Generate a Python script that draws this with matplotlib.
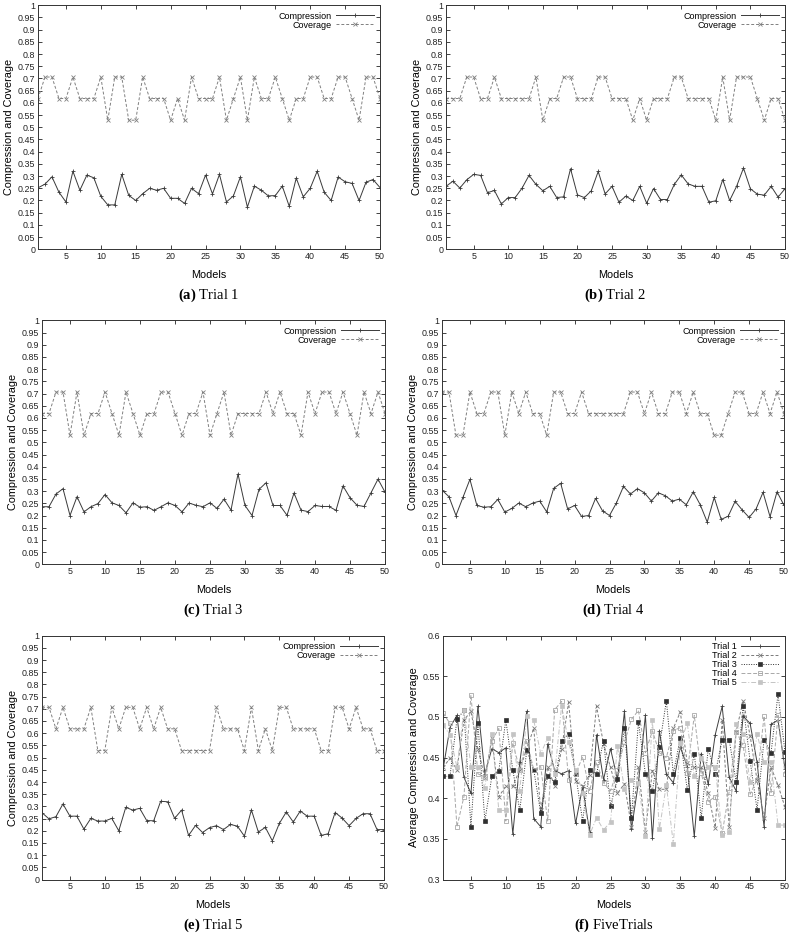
import matplotlib
matplotlib.use("Agg")
import matplotlib.pyplot as plt
import numpy as np

plt.rcParams['font.family'] = ['Liberation Sans', 'DejaVu Sans']
plt.rcParams['mathtext.fontset'] = 'custom'
plt.rcParams['mathtext.rm'] = 'Liberation Serif'
plt.rcParams['mathtext.bf'] = 'Liberation Serif:bold'

models = list(range(1, 51))

cov1 = [.618,.706,.706,.618,.618,.706,.618,.618,.618,.706, .529,.706,.706,.529,.529,.706,.618,.618,.618,.529,
        .618,.529,.706,.618,.618,.618,.706,.529,.618,.706, .529,.706,.618,.618,.706,.618,.529,.618,.618,.706,
        .706,.618,.618,.706,.706,.618,.529,.706,.706,.618]
comp1 = [.252,.267,.297,.234,.194,.320,.242,.304,.293,.217, .182,.182,.307,.221,.200,.228,.250,.242,.250,.209,
         .209,.188,.250,.228,.304,.227,.307,.194,.219,.297, .173,.259,.242,.219,.220,.259,.176,.292,.215,.250,
         .320,.234,.200,.296,.277,.270,.200,.275,.286,.253]

cov2 = [.618,.618,.618,.706,.706,.618,.618,.706,.618,.618, .618,.618,.618,.706,.529,.618,.618,.706,.706,.618,
        .618,.618,.706,.706,.618,.618,.618,.529,.618,.529, .618,.618,.618,.706,.706,.618,.618,.618,.618,.529,
        .706,.529,.706,.706,.706,.618,.529,.618,.618,.529]
comp2 = [.258,.279,.251,.285,.307,.303,.232,.241,.186,.212, .212,.251,.303,.266,.240,.258,.212,.215,.330,.223,
         .212,.240,.319,.227,.258,.193,.218,.200,.258,.189, .249,.204,.204,.266,.305,.268,.258,.258,.193,.199,
         .286,.200,.258,.333,.248,.226,.222,.258,.214,.248]

cov3 = [.618,.618,.706,.706,.529,.706,.529,.618,.618,.706, .618,.529,.706,.618,.529,.618,.618,.706,.706,.618,
        .529,.618,.618,.706,.529,.618,.706,.529,.618,.618, .618,.618,.706,.618,.706,.618,.618,.529,.706,.618,
        .706,.706,.618,.706,.618,.529,.706,.618,.706,.618]
comp3 = [.236,.236,.288,.310,.200,.277,.215,.236,.249,.286, .252,.241,.211,.252,.234,.236,.221,.236,.252,.241,
         .215,.251,.242,.236,.252,.229,.267,.222,.370,.241, .200,.307,.334,.241,.241,.201,.292,.222,.216,.241,
         .237,.237,.221,.321,.273,.242,.237,.293,.349,.296]

cov4 = [.706,.706,.529,.529,.706,.618,.618,.706,.706,.529, .706,.618,.706,.618,.618,.529,.706,.706,.618,.618,
        .706,.618,.618,.618,.618,.618,.618,.706,.706,.618, .706,.618,.618,.706,.706,.618,.706,.618,.618,.529,
        .529,.618,.706,.706,.618,.618,.706,.618,.706,.618]
comp4 = [.304,.277,.200,.274,.348,.241,.234,.236,.266,.214, .229,.251,.236,.251,.259,.215,.311,.332,.227,.241,
         .196,.200,.270,.219,.200,.252,.319,.288,.310,.293, .259,.293,.281,.259,.267,.244,.297,.244,.173,.274,
         .184,.197,.258,.223,.192,.227,.295,.195,.297,.242]

cov5 = [.706,.706,.618,.706,.618,.618,.618,.706,.529,.529, .706,.618,.706,.706,.618,.706,.618,.706,.618,.618,
        .529,.529,.529,.529,.529,.706,.618,.618,.618,.529, .706,.529,.618,.529,.706,.706,.618,.618,.618,.618,
        .529,.529,.706,.706,.618,.706,.618,.618,.529,.529]
comp5 = [.274,.249,.258,.310,.260,.260,.207,.251,.240,.240, .251,.200,.296,.285,.292,.242,.241,.321,.319,.251,
         .285,.181,.222,.193,.213,.221,.205,.226,.219,.178, .286,.195,.214,.159,.230,.277,.236,.281,.260,.260,
         .181,.188,.275,.252,.221,.251,.270,.270,.205,.205]

avg1 = [.435,.487,.502,.426,.406,.513,.430,.461,.456,.462, .356,.444,.507,.375,.365,.467,.434,.430,.434,.369,
        .414,.359,.478,.423,.461,.423,.507,.362,.419,.502, .351,.483,.430,.419,.463,.439,.353,.455,.417,.478,
        .513,.426,.409,.501,.492,.444,.365,.491,.496,.436]
avg2 = [.438,.449,.435,.496,.507,.461,.425,.474,.402,.415, .415,.435,.461,.486,.385,.438,.415,.461,.518,.421,
        .415,.429,.513,.467,.438,.406,.418,.365,.438,.359, .434,.411,.411,.486,.506,.443,.438,.438,.406,.364,
        .496,.365,.482,.520,.477,.422,.376,.438,.416,.389]
avg3 = [.427,.427,.497,.508,.365,.492,.372,.427,.434,.496, .435,.385,.459,.435,.382,.427,.420,.471,.479,.430,
        .372,.435,.430,.471,.391,.424,.487,.376,.494,.430, .409,.463,.520,.430,.474,.410,.455,.376,.461,.430,
        .472,.472,.420,.514,.446,.386,.472,.456,.528,.457]
avg4 = [.505,.492,.365,.402,.527,.430,.426,.471,.486,.372, .468,.435,.471,.435,.439,.372,.509,.519,.423,.430,
        .451,.409,.444,.419,.409,.435,.469,.497,.508,.456, .483,.456,.450,.483,.487,.431,.502,.431,.396,.402,
        .357,.408,.482,.465,.405,.423,.501,.407,.502,.430]
avg5 = [.490,.478,.438,.508,.439,.439,.413,.479,.385,.385, .479,.409,.501,.496,.455,.474,.430,.514,.469,.435,
        .407,.355,.376,.361,.371,.464,.412,.422,.419,.354, .496,.362,.416,.344,.468,.492,.427,.450,.439,.439,
        .355,.359,.491,.479,.420,.479,.444,.444,.367,.367]

panels = [("a", "Trial 1", comp1, cov1), ("b", "Trial 2", comp2, cov2),
          ("c", "Trial 3", comp3, cov3), ("d", "Trial 4", comp4, cov4),
          ("e", "Trial 5", comp5, cov5)]

W, H = 793, 933
fig = plt.figure(figsize=(W / 100, H / 100), dpi=100)


def rect(l, r, t, b):
    return [l / W, 1 - b / H, (r - l) / W, (b - t) / H]


rects = [rect(38, 380, 5.3, 249.3), rect(446, 785, 5.3, 249.3),
         rect(42, 385, 320.3, 564.3), rect(442, 784, 320.3, 564.3),
         rect(42, 384, 635.6, 879.6), rect(443, 785, 635.6, 879.6)]
caption_y = [295, 295, 610, 610, 925, 925]
models_y = [275, 275, 590, 590, 905, 905]

TICK_FS = 6.4
LABEL_FS = 7.8


def style_axes(ax):
    ax.tick_params(direction='in', length=3, width=0.6, labelsize=TICK_FS,
                   top=True, right=True, pad=2, colors='#222222')
    for s in ax.spines.values():
        s.set_linewidth(0.7)
        s.set_color('#333333')
    ax.set_xticks(range(5, 51, 5))
    ax.set_xlim(1, 50)


def fmt(v):
    s = f"{v:.2f}".rstrip('0').rstrip('.')
    return s


for k, (letter, title, comp, cov) in enumerate(panels):
    ax = fig.add_axes(rects[k])
    ax.plot(models, comp, color='#3a3a3a', lw=0.7, marker='+', ms=3.5, mew=0.6,
            label='Compression')
    ax.plot(models, cov, color='#808080', lw=0.7, ls=(0, (3, 2)), marker='x', ms=3,
            mew=0.6, label='Coverage')
    style_axes(ax)
    yt = np.round(np.arange(0, 1.0001, 0.05), 2)
    ax.set_yticks(yt)
    ax.set_yticklabels([fmt(v) for v in yt])
    ax.set_ylim(0, 1)
    ax.set_ylabel('Compression and Coverage', fontsize=LABEL_FS, labelpad=3)
    ax.legend(loc='upper right', frameon=False, fontsize=6.5, markerfirst=False,
              handlelength=4.2, handletextpad=0.5, labelspacing=0.0,
              borderaxespad=0.3)
    cx = (rects[k][0] + rects[k][2] / 2)
    fig.text(cx, 1 - models_y[k] / H, 'Models', ha='center', va='center',
             fontsize=LABEL_FS)
    fig.text(cx, 1 - caption_y[k] / H, r'$\bf{(%s)}$ %s' % (letter, title),
             ha='center', va='center', fontsize=10.5,
             family='Liberation Serif')

# Panel f
ax = fig.add_axes(rects[5])
ax.plot(models, avg1, color='#404040', lw=0.7, marker='+', ms=3.5, mew=0.6, label='Trial 1')
ax.plot(models, avg2, color='#7a7a7a', lw=0.7, ls=(0, (3, 2)), marker='x', ms=3, mew=0.6,
        label='Trial 2')
ax.plot(models, avg3, color='#303030', lw=0.7, ls=(0, (1, 1.5)), marker='s', ms=2.2,
        mew=0.5, mfc='#303030', label='Trial 3')
ax.plot(models, avg4, color='#a8a8a8', lw=0.7, ls=(0, (4, 2)), marker='s', ms=3.5,
        mew=0.6, mfc='none', label='Trial 4')
ax.plot(models, avg5, color='#c4c4c4', lw=0.7, ls=(0, (5, 2, 1, 2)), marker='s', ms=2.8,
        mew=0.5, mfc='#c4c4c4', label='Trial 5')
style_axes(ax)
yt = np.round(np.arange(0.3, 0.6001, 0.05), 2)
ax.set_yticks(yt)
ax.set_yticklabels([fmt(v) for v in yt])
ax.set_ylim(0.3, 0.6)
ax.set_ylabel('Average Compression and Coverage', fontsize=LABEL_FS, labelpad=3)
ax.legend(loc='upper right', frameon=False, fontsize=6.5, markerfirst=False,
          handlelength=4.2, handletextpad=0.5, labelspacing=0.0, borderaxespad=0.3)
cx = rects[5][0] + rects[5][2] / 2
fig.text(cx, 1 - models_y[5] / H, 'Models', ha='center', va='center', fontsize=LABEL_FS)
fig.text(cx, 1 - caption_y[5] / H, r'$\bf{(f)}$ FiveTrials', ha='center', va='center',
         fontsize=10.5, family='Liberation Serif')

fig.savefig('out.png', dpi=100)
